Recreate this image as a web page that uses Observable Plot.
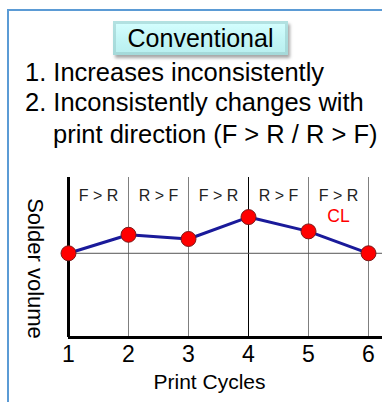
<!DOCTYPE html>
<html>
<head>
<meta charset="utf-8">
<script src="https://cdn.jsdelivr.net/npm/d3@7"></script>
<script src="https://cdn.jsdelivr.net/npm/@observablehq/plot@0.6"></script>
<style>
  html, body { margin: 0; padding: 0; background: #fff; }
  body { width: 382px; height: 402px; overflow: hidden; position: relative;
         font-family: "Liberation Sans", Arial, sans-serif; color: #000; }
  #frame { position: absolute; left: 7px; top: 9px; width: 500px; height: 500px;
           border-left: 2px solid #5b9bd5; border-top: 2px solid #5b9bd5; box-sizing: border-box; }
  #title { position: absolute; left: 113px; top: 21px; width: 175px; height: 34px;
           background: linear-gradient(#d6ffff, #c4f6f6 50%, #b8eeee);
           box-shadow: 2px 3px 3px rgba(0,0,0,0.35), inset 0 0 0 3px rgba(150,200,200,0.55);
           font-size: 25px; line-height: 34px; text-align: center; }
  .line { position: absolute; font-size: 25.5px; line-height: 29px; white-space: nowrap; }
  #chart { position: absolute; left: 0; top: 160px; }
</style>
</head>
<body>
<div id="frame"></div>
<div id="title">Conventional</div>
<div class="line" style="left:25px; top:58px;">1. Increases inconsistently</div>
<div class="line" style="left:25px; top:88px;">2. Inconsistently changes with</div>
<div class="line" style="left:53px; top:120px;">print direction (F &gt; R / R &gt; F)</div>
<div id="chart"></div>
<script>
const cycles = [1, 2, 3, 4, 5, 6];
const solderVolume = [100, 122, 117, 143, 126, 100];
const directions = ["F > R", "R > F", "F > R", "R > F", "F > R"];
const gridCycles = [2, 3, 4, 5, 6];
const gridColors = ["#7f7f7f", "#7f7f7f", "#000000", "#7f7f7f", "#7f7f7f"];
const clLabel = "CL";
const clCycle = 5;
const baseline = 100;

const points = cycles.map((c, i) => ({cycle: c, volume: solderVolume[i]}));
const dirs = directions.map((d, i) => ({mid: cycles[i] + 0.5, label: d}));
const grid = gridCycles.map((c, i) => ({cycle: c, color: gridColors[i]}));

const chart = Plot.plot({
  width: 382,
  height: 242,
  marginLeft: 68,
  marginRight: 0,
  marginTop: 17,
  marginBottom: 65,
  style: {fontFamily: "'Liberation Sans', Arial, sans-serif", background: "transparent"},
  x: {domain: [1, 6], range: [68, 368], axis: null},
  y: {domain: [0, 190], axis: null},
  marks: [
    Plot.ruleX(grid, {x: "cycle", stroke: "color", strokeWidth: 1}),
    Plot.ruleY([baseline], {stroke: "#555", strokeWidth: 1}),
    Plot.ruleY([0], {stroke: "#000", strokeWidth: 3}),
    Plot.ruleX([1], {stroke: "#000", strokeWidth: 3}),
    Plot.text(dirs, {x: "mid", text: "label", frameAnchor: "top", dy: 12, fontSize: 16, fill: "#222"}),
    Plot.text([clLabel], {x: clCycle + 0.5, frameAnchor: "top", dy: 32, fontSize: 17.5, fill: "#ff0000"}),
    Plot.line(points, {x: "cycle", y: "volume", stroke: "#1a1a9a", strokeWidth: 3}),
    Plot.dot(points, {x: "cycle", y: "volume", r: 7.5, fill: "#ff0000", stroke: "#7a1a1a", strokeWidth: 1}),
    Plot.axisX(cycles, {tickSize: 0, tickPadding: 8, fontSize: 23, fill: "#000", label: null}),
    Plot.text(["Print Cycles"], {frameAnchor: "bottom", x: 3.35, dy: 51, fontSize: 21, fill: "#000"}),
    Plot.text(["Solder volume"], {frameAnchor: "left", textAnchor: "middle", dx: -33, dy: 11, rotate: 90, fontSize: 22, fill: "#000"})
  ]
});
document.getElementById("chart").appendChild(chart);
</script>
</body>
</html>
